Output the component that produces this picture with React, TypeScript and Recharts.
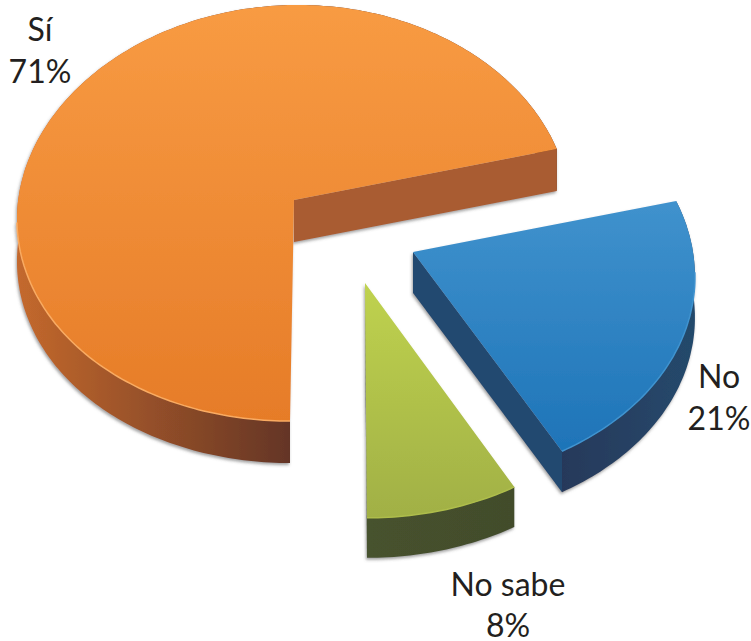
import { PieChart, Pie } from 'recharts';

const names = ['Sí', 'No sabe', 'No'];
const values = [71, 8, 21];

// look of each slice, same order as names
const topFrom = ['#f89b43', '#bfd24f', '#4092cd'];
const topTo = ['#e67c28', '#a1b045', '#1e74b8'];
const rimColors = ['#f9ab62', '#aebd4b', '#3f93cf'];
const wallFrom = ['#c4692d', '#47522d', '#28395a'];
const wallTo = ['#643525', '#424c2c', '#24496c'];
const cutColors = ['#a95c30', '#47522d', '#23486f'];
const offsetX = [0, 71, 119];
const offsetY = [0, 83, 52];
const scaleX = [0.985, 0.99, 1];
const scaleY = [0.743, 0.778, 0.75];
const perspX = [0.08, 0.12, 0.119];
const perspY = [0.0625, 0.078, 0.094];
const skews = [-4, 2, 0];
const depths = [42, 40, 41];
const labelX = [40, 508, 719];
const labelY = [41, 596, 388];
const labelGap = [42, 41, 42];
const CX = 294;
const CY = 200;
const RADIUS = 280;

function SliceShape(props: any) {
  const i = names.indexOf(props.name);
  const { cx, cy, outerRadius, startAngle, endAngle } = props;
  const project = (deg: number) => {
    const u = Math.cos((deg * Math.PI) / 180);
    const v = -Math.sin((deg * Math.PI) / 180);
    return [
      cx + offsetX[i] + outerRadius * scaleX[i] * u * (1 + perspX[i] * v) + skews[i] * v,
      cy + offsetY[i] + outerRadius * scaleY[i] * v * (1 + perspY[i] * v),
    ];
  };
  const arc: number[][] = [];
  const steps = Math.ceil(Math.abs(endAngle - startAngle));
  for (let s = 0; s <= steps; s++) {
    arc.push(project(startAngle + ((endAngle - startAngle) * s) / steps));
  }
  const tip = [cx + offsetX[i], cy + offsetY[i]];
  const d = depths[i];
  const line = (pts: number[][]) => pts.map((p) => p[0].toFixed(1) + ',' + p[1].toFixed(1)).join(' ');
  const down = (p: number[]) => [p[0], p[1] + d];
  const wall = [...arc, ...arc.slice().reverse().map(down)];
  const cut = [tip, arc[0], down(arc[0]), down(tip)];
  const frontRim = arc.filter((p) => p[1] > tip[1] + 20);
  const frontX = arc.filter((p) => p[1] > tip[1]).map((p) => p[0]);
  return (
    <g filter="url(#pieShadow)">
      <defs>
        <linearGradient id={'top' + i} x1="0" y1="0" x2="0" y2="1">
          <stop offset="0" stopColor={topFrom[i]} />
          <stop offset="1" stopColor={topTo[i]} />
        </linearGradient>
        <linearGradient
          id={'wall' + i}
          gradientUnits="userSpaceOnUse"
          x1={Math.min(...frontX)}
          y1="0"
          x2={Math.max(...frontX)}
          y2="0"
        >
          <stop offset="0" stopColor={wallFrom[i]} />
          <stop offset="1" stopColor={wallTo[i]} />
        </linearGradient>
        <filter id="pieShadow" x="-5%" y="-5%" width="110%" height="110%">
          <feDropShadow dx="-1" dy="2" stdDeviation="1.5" floodColor="#555" floodOpacity="0.55" />
        </filter>
      </defs>
      <polygon points={line(wall)} fill={`url(#wall${i})`} />
      <polygon points={line(cut)} fill={cutColors[i]} />
      <polygon points={line([tip, ...arc])} fill={`url(#top${i})`} />
      <polyline points={line(frontRim)} fill="none" stroke={rimColors[i]} strokeWidth={1.5} />
    </g>
  );
}

function SliceLabel(props: any) {
  const i = names.indexOf(props.name);
  return (
    <text textAnchor="middle" fontFamily="Lato" fontSize={32} fill="#231f20">
      <tspan x={labelX[i]} y={labelY[i]}>{props.name}</tspan>
      <tspan x={labelX[i]} y={labelY[i] + labelGap[i]}>{props.value}%</tspan>
    </text>
  );
}

export default function App() {
  const data = names.map((name, i) => ({ name, value: values[i] }));
  return (
    <div style={{ position: 'absolute', left: 0, top: 0, width: 751, height: 641 }}>
      <PieChart width={751} height={641} margin={{ top: 0, right: 0, bottom: 0, left: 0 }}>
        <Pie
          data={data}
          dataKey="value"
          nameKey="name"
          cx={CX}
          cy={CY}
          outerRadius={RADIUS}
          startAngle={14.4}
          endAngle={374.4}
          stroke="none"
          shape={SliceShape}
          label={SliceLabel}
          labelLine={false}
          isAnimationActive={false}
        />
      </PieChart>
    </div>
  );
}
